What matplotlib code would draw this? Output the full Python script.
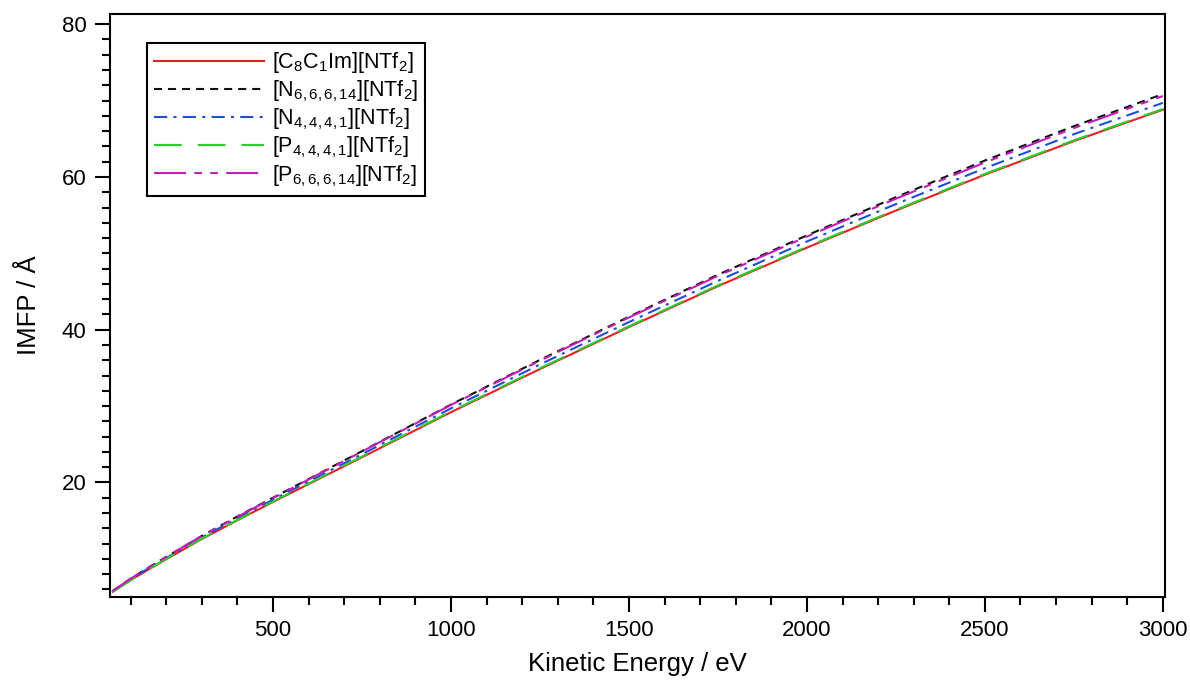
import matplotlib
matplotlib.use("Agg")
import matplotlib.pyplot as plt
from matplotlib.ticker import MultipleLocator

# kinetic energy (eV) and IMFP (angstrom)
energy = [50, 100, 150, 200, 300, 400, 500, 750, 1000, 1250, 1500,
          1750, 2000, 2250, 2500, 2750, 3000]
imfp_c8c1im = [5.7, 7.2, 8.6, 9.95, 12.6, 15.05, 17.45, 23.3, 29.2, 34.85, 40.35,
               45.7, 50.75, 55.6, 60.3, 64.7, 68.8]
imfp_n66614 = [5.8, 7.4, 8.85, 10.25, 13.0, 15.55, 18.0, 24.1, 30.2, 36.05, 41.7,
               47.2, 52.35, 57.35, 62.15, 66.65, 70.85]
imfp_n4441 = [5.75, 7.3, 8.75, 10.1, 12.8, 15.3, 17.75, 23.7, 29.7, 35.45, 41.0,
              46.4, 51.55, 56.45, 61.15, 65.6, 69.7]
imfp_p4441 = [5.7, 7.2, 8.65, 10.0, 12.65, 15.1, 17.5, 23.4, 29.3, 34.95, 40.45,
              45.8, 50.85, 55.7, 60.4, 64.8, 68.9]
imfp_p66614 = [5.8, 7.4, 8.85, 10.25, 13.0, 15.5, 17.95, 24.05, 30.15, 35.95, 41.6,
               47.05, 52.2, 57.15, 61.9, 66.4, 70.6]

labels = [r"[C$_8$C$_1$Im][NTf$_2$]",
          r"[N$_{6,6,6,14}$][NTf$_2$]",
          r"[N$_{4,4,4,1}$][NTf$_2$]",
          r"[P$_{4,4,4,1}$][NTf$_2$]",
          r"[P$_{6,6,6,14}$][NTf$_2$]"]
series = [imfp_c8c1im, imfp_n66614, imfp_n4441, imfp_p4441, imfp_p66614]
colors = ["#e8201f", "#111111", "#1f4fd6", "#2ccc2c", "#c21fb4"]
dashes = ["-", (0, (5.8, 4.3)), (0, (9.5, 4.5, 2.2, 4.5)),
          (0, (20, 11.5)), (0, (23, 6, 5.5, 6, 5.5, 6))]

plt.rcParams["font.family"] = ["Liberation Sans", "DejaVu Sans"]
plt.rcParams["mathtext.fontset"] = "custom"
plt.rcParams["mathtext.rm"] = "Liberation Sans"
plt.rcParams["mathtext.it"] = "Liberation Sans:italic"
plt.rcParams["mathtext.default"] = "regular"
plt.rcParams["lines.scale_dashes"] = False

fig = plt.figure(figsize=(11.9, 6.8), dpi=100)
ax = fig.add_axes([0.0921, 0.122, 0.979 - 0.0921, 0.979 - 0.122])

for y, lab, c, ls in zip(series, labels, colors, dashes):
    ax.plot(energy, y, color=c, linestyle=ls, linewidth=1.5, label=lab)

ax.set_xlim(41, 3006)
ax.set_ylim(5.0, 81.3)
ax.xaxis.set_major_locator(MultipleLocator(500))
ax.xaxis.set_minor_locator(MultipleLocator(100))
ax.yaxis.set_major_locator(MultipleLocator(20))
ax.yaxis.set_minor_locator(MultipleLocator(2))
ax.tick_params(which="major", direction="out", length=10.5, width=1.5,
               labelsize=16, pad=6)
ax.tick_params(which="minor", direction="out", length=5.8, width=1.5)
for s in ax.spines.values():
    s.set_linewidth(1.5)

ax.set_xlabel("Kinetic Energy / eV", fontsize=18.5, labelpad=8)
ax.set_ylabel("IMFP / Å", fontsize=18.5, labelpad=15)

leg = ax.legend(loc="upper left", bbox_to_anchor=(0.0354, 0.9503),
                borderaxespad=0, fontsize=15.5, handlelength=5.1,
                handletextpad=0.37, labelspacing=0.13, borderpad=0.33,
                fancybox=False, framealpha=1, edgecolor="black")
leg.get_frame().set_linewidth(1.5)

fig.savefig("out.png", dpi=100)
